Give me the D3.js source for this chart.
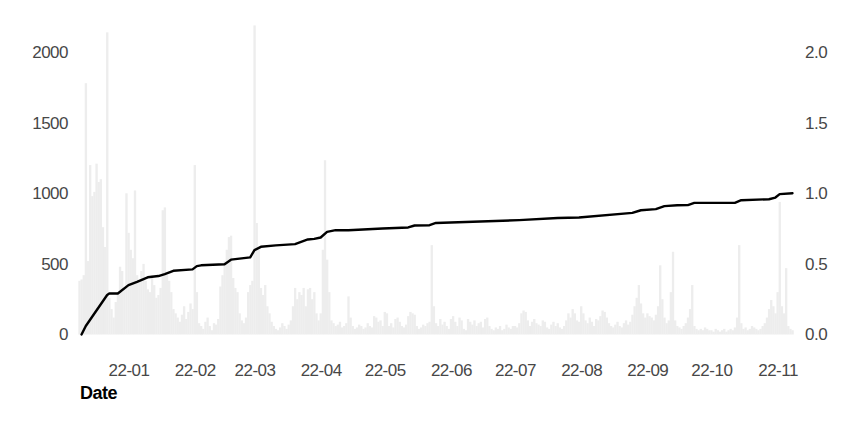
<!DOCTYPE html>
<html>
<head>
<meta charset="utf-8">
<script src="https://cdn.jsdelivr.net/npm/d3@7"></script>
<style>
  html, body { margin: 0; padding: 0; background: #fff; }
  svg { display: block; font-family: "Liberation Sans", Arial, sans-serif; }
</style>
</head>
<body>
<svg id="chart" width="866" height="424"></svg>
<script>
// ---- Data ----
const barStart = "2021-12-09"; // first daily bar
const dec21 = [380, 390, 420, 1780, 520, 1200, 980, 1010, 1210, 1080, 1100, 760, 620, 2140, 260, 180, 120, 230, 300, 480, 450, 330, 1000];
const jan22 = [720, 600, 540, 1020, 420, 380, 450, 500, 380, 320, 300, 420, 350, 260, 280, 330, 880, 900, 420, 380, 300, 180, 150, 120, 90, 140, 200, 110, 160, 220, 180];
const feb22 = [1200, 300, 80, 60, 40, 90, 120, 60, 30, 80, 70, 110, 340, 420, 520, 600, 690, 700, 400, 330, 300, 150, 100, 80, 120, 300, 350, 380];
const mar22 = [2189, 790, 600, 330, 280, 350, 200, 150, 90, 60, 40, 30, 50, 80, 60, 40, 70, 100, 200, 330, 250, 300, 280, 330, 200, 320, 330, 250, 300, 150, 100];
const apr22 = [150, 600, 1234, 530, 300, 100, 80, 60, 70, 90, 50, 60, 80, 270, 120, 60, 40, 50, 70, 60, 40, 50, 80, 60, 50, 130, 120, 90, 100, 60];
const may22 = [160, 150, 60, 80, 50, 110, 120, 90, 60, 50, 70, 130, 160, 150, 140, 60, 40, 50, 70, 60, 80, 90, 633, 200, 80, 60, 110, 70, 90, 60, 40];
const jun22 = [110, 130, 90, 60, 120, 100, 40, 30, 110, 90, 70, 100, 60, 80, 90, 50, 110, 120, 60, 40, 30, 50, 40, 60, 30, 40, 70, 50, 40, 60];
const jul22 = [60, 50, 80, 150, 170, 160, 100, 60, 90, 110, 80, 70, 60, 100, 90, 50, 40, 70, 90, 60, 80, 50, 40, 60, 100, 150, 120, 180, 150, 100, 90];
const aug22 = [200, 150, 100, 80, 120, 90, 60, 110, 100, 130, 170, 160, 120, 80, 60, 50, 70, 90, 60, 50, 80, 100, 70, 90, 140, 200, 260, 350, 220, 150, 120];
const sep22 = [150, 130, 120, 100, 140, 200, 490, 250, 120, 80, 100, 300, 586, 100, 60, 50, 40, 60, 80, 120, 180, 350, 60, 40, 30, 40, 30, 50, 40, 30];
const oct22 = [30, 20, 40, 30, 20, 30, 40, 20, 30, 40, 30, 50, 120, 633, 80, 40, 50, 30, 40, 60, 50, 40, 30, 40, 60, 80, 120, 180, 244, 200, 150];
const nov22 = [300, 939, 200, 150, 470, 60, 40, 30];

// cumulative share line (right axis), readings at breakpoints
const lineDates = ["2021-12-10","2021-12-12","2021-12-22","2021-12-23","2021-12-27","2022-01-01","2022-01-05","2022-01-10","2022-01-15","2022-01-18","2022-01-22","2022-01-31","2022-02-02","2022-02-04","2022-02-15","2022-02-18","2022-02-27","2022-03-01","2022-03-04","2022-03-11","2022-03-20","2022-03-26","2022-03-29","2022-04-01","2022-04-04","2022-04-08","2022-04-14","2022-04-30","2022-05-12","2022-05-15","2022-05-22","2022-05-25","2022-07-03","2022-07-21","2022-07-31","2022-08-25","2022-08-29","2022-09-05","2022-09-09","2022-09-15","2022-09-20","2022-09-23","2022-10-12","2022-10-15","2022-10-28","2022-10-31","2022-11-02","2022-11-08"];
const lineValues = [0.0, 0.06, 0.28, 0.29, 0.29, 0.35, 0.373, 0.405, 0.414, 0.428, 0.451, 0.461, 0.484, 0.49, 0.498, 0.53, 0.546, 0.598, 0.621, 0.631, 0.64, 0.673, 0.677, 0.687, 0.727, 0.739, 0.738, 0.751, 0.758, 0.772, 0.774, 0.79, 0.81, 0.825, 0.829, 0.861, 0.88, 0.888, 0.909, 0.915, 0.916, 0.932, 0.932, 0.951, 0.958, 0.97, 0.994, 1.0];

const xTickDates = ["2022-01-01","2022-02-01","2022-03-01","2022-04-01","2022-05-01","2022-06-01","2022-07-01","2022-08-01","2022-09-01","2022-10-01","2022-11-01"];
const leftTicks = [0, 500, 1000, 1500, 2000];
const rightTicks = [0.0, 0.5, 1.0, 1.5, 2.0];
const xLabel = "Date";

// ---- Build ----
const parse = d3.utcParse("%Y-%m-%d");
const allCounts = [].concat(dec21, jan22, feb22, mar22, apr22, may22, jun22, jul22, aug22, sep22, oct22, nov22);
const start = parse(barStart);
const bars = allCounts.map((v, i) => ({ date: d3.utcDay.offset(start, i), value: v }));
const linePts = lineDates.map((d, i) => ({ date: parse(d), value: lineValues[i] }));

const svg = d3.select("#chart");
const dayPx = 2.135;
const x0 = parse("2021-12-09"), x1 = parse("2022-11-09");
const jan1 = parse("2022-01-01");
const pxJan1 = 128.5;
const offStart = (x0 - jan1) / 864e5, offEnd = (x1 - jan1) / 864e5;
const x = d3.scaleUtc()
  .domain([x0, x1])
  .range([pxJan1 + offStart * dayPx, pxJan1 + offEnd * dayPx]);

const yBottom = 334.5, yPerK = 141.2;
const yL = d3.scaleLinear().domain([0, 2200]).range([yBottom, yBottom - 2.2 * yPerK]);
const yR = d3.scaleLinear().domain([0, 2.2]).range([yBottom, yBottom - 2.2 * yPerK]);

// bars
const bw = x(d3.utcDay.offset(x0, 1)) - x(x0);
svg.append("g")
  .selectAll("rect")
  .data(bars)
  .join("rect")
  .attr("x", d => x(d.date) - bw / 2)
  .attr("width", bw + 0.2)
  .attr("y", d => yL(d.value))
  .attr("height", d => yL(0) - yL(d.value))
  .attr("fill", "#ededed");

// line
svg.append("path")
  .datum(linePts)
  .attr("fill", "none")
  .attr("stroke", "#000")
  .attr("stroke-width", 2.4)
  .attr("stroke-linejoin", "round")
  .attr("stroke-linecap", "round")
  .attr("d", d3.line().x(d => x(d.date)).y(d => yR(d.value)));

// axes
const fontSize = 17;
const gL = svg.append("g").attr("transform", "translate(68,0)")
  .call(d3.axisLeft(yL).tickValues(leftTicks).tickSize(0).tickPadding(0).tickFormat(d3.format("d")));
const gR = svg.append("g").attr("transform", "translate(805,0)")
  .call(d3.axisRight(yR).tickValues(rightTicks).tickSize(0).tickPadding(0).tickFormat(d3.format(".1f")));
const gX = svg.append("g").attr("transform", `translate(0,${yBottom})`)
  .call(d3.axisBottom(x).tickValues(xTickDates.map(parse)).tickSize(0).tickPadding(29).tickFormat(d3.utcFormat("%y-%m")));

[gL, gR, gX].forEach(g => {
  g.select(".domain").remove();
  g.selectAll("text")
    .attr("fill", "#474747")
    .style("font-size", fontSize + "px")
    .style("font-family", "'Liberation Sans', Arial, sans-serif")
    .style("letter-spacing", "-0.5px");
});

svg.append("text")
  .attr("x", 80)
  .attr("y", 399)
  .attr("fill", "#000")
  .style("font-size", "18px")
  .style("font-weight", "bold")
  .style("letter-spacing", "-0.5px")
  .text(xLabel);
</script>
</body>
</html>
